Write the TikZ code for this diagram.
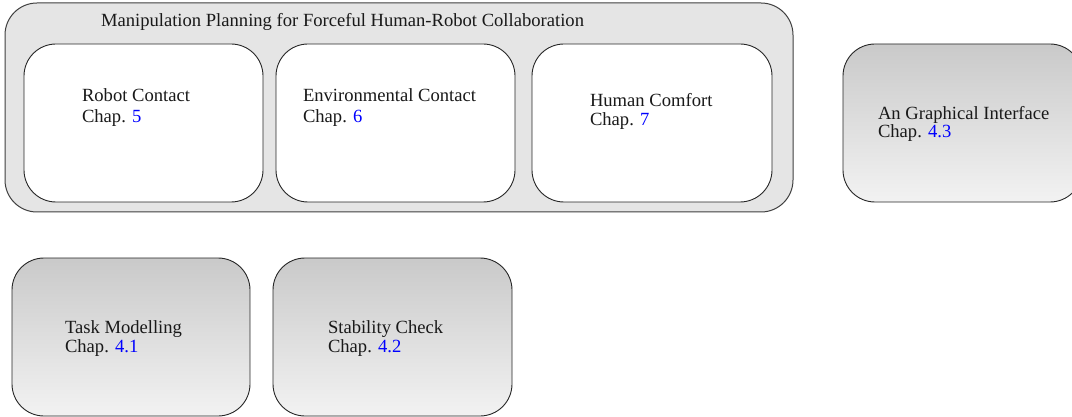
\documentclass[tikz,border=0pt]{standalone}
\usepackage{fontspec}
\setmainfont{Liberation Serif}
\begin{document}
\begin{tikzpicture}[x=1pt,y=-1pt,
  outerbox/.style={draw=black!75,line width=1pt,fill=black!10,rounded corners=32pt},
  innerbox/.style={draw=black!85,line width=0.9pt,fill=white,rounded corners=32pt},
  gradbox/.style={draw=black!85,line width=0.9pt,rounded corners=32pt,top color=black!21,bottom color=black!5},
  txt/.style={anchor=base west,inner sep=0pt,outer sep=0pt,font=\fontsize{18.6}{21}\selectfont,text=black!90},
  chapnum/.style={text=blue}]
\useasboundingbox (0,0) rectangle (1072,417);
\clip (0,0) rectangle (1072,417);
\fill[white] (0,0) rectangle (1072,417);
% outer container
\draw[outerbox] (5,3) rectangle (793,212);
\node[txt] (title) at (101,27) {Manipulation Planning for Forceful Human-Robot Collaboration};
% inner boxes
\draw[innerbox] (24,44) rectangle (263,202);
\draw[innerbox] (276,44) rectangle (515,202);
\draw[innerbox] (532,44) rectangle (772,202);
\node[txt] (rc1) at (82,102) {Robot Contact};
\node[txt] (rc2) at (82,123) {Chap. \textcolor{blue}{5}};
\node[txt] (ec1) at (303,102) {Environmental Contact};
\node[txt] (ec2) at (303,123) {Chap. \textcolor{blue}{6}};
\node[txt] (hc1) at (590,107) {Human Comfort};
\node[txt] (hc2) at (590,126) {Chap. \textcolor{blue}{7}};
% graphical interface
\draw[gradbox] (843,44) rectangle (1082,202);
\node[txt] (gi1) at (878,120) {An Graphical Interface};
\node[txt] (gi2) at (878,138) {Chap. \textcolor{blue}{4.3}};
% bottom boxes
\draw[gradbox] (12,258) rectangle (250,416);
\draw[gradbox] (273,258) rectangle (512,416);
\node[txt] (tm1) at (65,333) {Task Modelling};
\node[txt] (tm2) at (65,352) {Chap. \textcolor{blue}{4.1}};
\node[txt] (sc1) at (328,333) {Stability Check};
\node[txt] (sc2) at (328,352) {Chap. \textcolor{blue}{4.2}};
\end{tikzpicture}
\end{document}
